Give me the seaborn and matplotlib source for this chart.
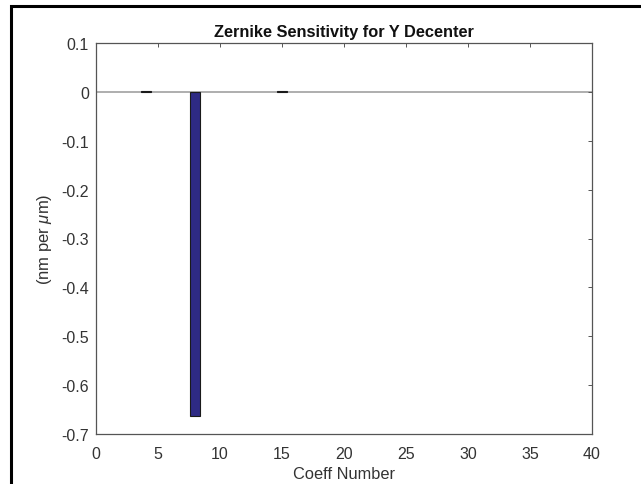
import numpy as np
import pandas as pd
import matplotlib
matplotlib.use("Agg")
import matplotlib.pyplot as plt
from matplotlib.patches import Rectangle
import seaborn as sns

# Zernike coefficient indices and their sensitivity to Y decenter
coeff_numbers = list(range(1, 38))
sensitivity = [0.0] * 37
sensitivity[3] = 0.0015    # Z4
sensitivity[7] = -0.664    # Z8
sensitivity[14] = 0.0015   # Z15

title = "Zernike Sensitivity for Y Decenter"
x_label = "Coeff Number"
y_label = r"(nm per $\mu$m)"
x_ticks = [0, 5, 10, 15, 20, 25, 30, 35, 40]
y_ticks = [0.1, 0, -0.1, -0.2, -0.3, -0.4, -0.5, -0.6, -0.7]
y_tick_labels = ["0.1", "0", "-0.1", "-0.2", "-0.3", "-0.4", "-0.5", "-0.6", "-0.7"]

df = pd.DataFrame({"coeff": coeff_numbers, "value": sensitivity})

sns.set_style("white")
plt.rcParams["font.family"] = ["Liberation Sans", "DejaVu Sans"]
plt.rcParams["mathtext.fontset"] = "custom"
plt.rcParams["mathtext.it"] = "Liberation Sans:italic"
plt.rcParams["mathtext.rm"] = "Liberation Sans"

fig = plt.figure(figsize=(6.41, 4.85), dpi=100)
W, H = 641, 485
ax = fig.add_axes([96 / W, 1 - 435 / H, (592 - 96) / W, (435 - 44) / H])

bar_color = "#2e2a84"
sns.barplot(data=df, x="coeff", y="value", native_scale=True, ax=ax,
            color=bar_color, saturation=1, width=0.8,
            edgecolor="#1a1a1a", linewidth=0.8)

# zero-height bars carry no visible outline; only the baseline shows
for p in ax.patches:
    if p.get_height() == 0:
        p.set_linewidth(0)

# baseline at zero
ax.axhline(0, color="#a8a8a8", lw=1.3, zorder=0.5)

ax.set_xlim(0, 40)
ax.set_ylim(-0.7, 0.1)
ax.set_xticks(x_ticks)
ax.set_xticklabels([str(t) for t in x_ticks])
ax.set_yticks(y_ticks)
ax.set_yticklabels(y_tick_labels)

for s in ax.spines.values():
    s.set_visible(True)
    s.set_color("#555555")
    s.set_linewidth(0.9)

ax.tick_params(axis="both", which="both", direction="in", length=3, width=0.7,
               color="#555555", labelsize=11.5, labelcolor="#333333",
               top=True, right=True)
ax.tick_params(axis="x", pad=9)
ax.tick_params(axis="y", pad=5)

ax.set_title(title, fontsize=11.8, fontweight="bold", color="#111111", pad=5)
ax.set_xlabel(x_label, fontsize=11.8, color="#333333", labelpad=3)
ax.set_ylabel(y_label, fontsize=12, color="#333333", labelpad=5)

# surrounding frame
fig.patches.append(Rectangle((11 / W, -0.05), 1.2, 1 - 7 / H + 0.05,
                             transform=fig.transFigure, fill=False,
                             edgecolor="black", linewidth=2.2))

fig.savefig("out.png", dpi=100, facecolor="white")
